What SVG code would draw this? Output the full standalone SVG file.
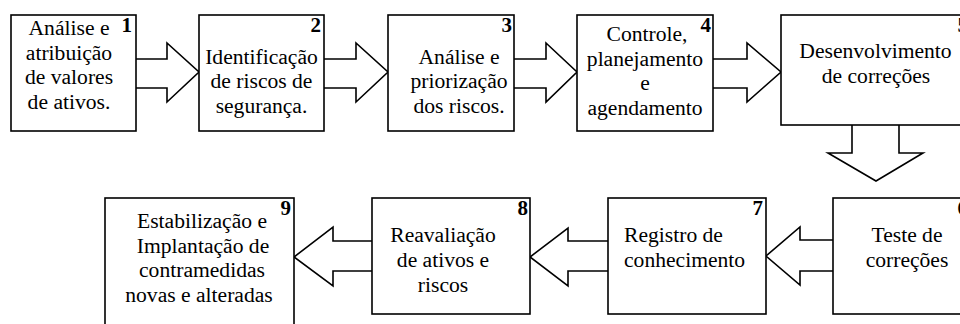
<svg xmlns="http://www.w3.org/2000/svg" width="960" height="324" viewBox="0 0 960 324">
<style>
.box{fill:#fff;stroke:#000;stroke-width:1.6}
.arr{fill:#fff;stroke:#000;stroke-width:1.6;stroke-linejoin:miter}
text{font-family:'Liberation Serif','Times New Roman','DejaVu Serif',serif;fill:#000}
.t{font-size:21.6px;text-anchor:middle}
.n{font-size:21px;font-weight:bold;text-anchor:end}
</style>
<rect width="960" height="324" fill="#fff"/>
<g id="connectors">
<polyline class="arr" points="136,59 167,59 167,43 199,72 167,102 167,88 136,88"/>
<polyline class="arr" points="324,59 356,59 356,43 388,72 356,102 356,88 324,88"/>
<polyline class="arr" points="514,59 546,59 546,43 577,72 546,102 546,88 514,88"/>
<polyline class="arr" points="713,59 747,59 747,43 781,72 747,102 747,88 713,88"/>
<polyline class="arr" points="852,125 852,153 828,153 876,181 923,153 899,153 899,125"/>
<polyline class="arr" points="833,240 800,240 800,227 766,256 800,285 800,271 833,271"/>
<polyline class="arr" points="608,241 568,241 568,228 530,257 568,286 568,271 608,271"/>
<polyline class="arr" points="372,241 333,241 333,227 294,257 333,286 333,271 372,271"/>
</g>
<g id="node1">
<rect class="box" x="11" y="15" width="125" height="116"/>
<text class="n" x="132" y="32" font-family="Liberation Serif">1</text>
<text class="t" x="69" y="35" font-family="Liberation Serif">Análise e</text>
<text class="t" x="69" y="60" font-family="Liberation Serif">atribuição</text>
<text class="t" x="69" y="84" font-family="Liberation Serif">de valores</text>
<text class="t" x="69" y="109" font-family="Liberation Serif">de ativos.</text>
</g>
<g id="node2">
<rect class="box" x="199" y="15" width="125" height="116"/>
<text class="n" x="321" y="32">2</text>
<text class="t" x="261.5" y="64">Identificação</text>
<text class="t" x="261.5" y="88">de riscos de</text>
<text class="t" x="261.5" y="113">segurança.</text>
</g>
<g id="node3">
<rect class="box" x="388" y="15" width="126" height="116"/>
<text class="n" x="512" y="32">3</text>
<text class="t" x="459" y="64">Análise e</text>
<text class="t" x="459" y="88">priorização</text>
<text class="t" x="459" y="113">dos riscos.</text>
</g>
<g id="node4">
<rect class="box" x="577" y="15" width="136" height="116"/>
<text class="n" x="711" y="32">4</text>
<text class="t" x="647" y="41">Controle,</text>
<text class="t" x="645" y="66">planejamento</text>
<text class="t" x="645" y="90">e</text>
<text class="t" x="645" y="115">agendamento</text>
</g>
<g id="node5">
<rect class="box" x="781" y="15" width="195" height="110"/>
<text class="n" x="968" y="32">5</text>
<text class="t" x="875.5" y="58">Desenvolvimento</text>
<text class="t" x="876" y="83">de correções</text>
</g>
<g id="node6">
<rect class="box" x="833" y="198" width="143" height="116"/>
<text class="n" x="968" y="215">6</text>
<text class="t" x="907" y="242">Teste de</text>
<text class="t" x="907" y="267">correções</text>
</g>
<g id="node7">
<rect class="box" x="608" y="198" width="158" height="116"/>
<text class="n" x="763" y="215">7</text>
<text class="t" x="624" y="242" style="text-anchor:start">Registro de</text>
<text class="t" x="624" y="267" style="text-anchor:start">conhecimento</text>
</g>
<g id="node8">
<rect class="box" x="372" y="198" width="158" height="116"/>
<text class="n" x="528" y="215">8</text>
<text class="t" x="443" y="242">Reavaliação</text>
<text class="t" x="443" y="267">de ativos e</text>
<text class="t" x="443" y="292">riscos</text>
</g>
<g id="node9">
<rect class="box" x="105" y="198" width="189" height="140"/>
<text class="n" x="291" y="215">9</text>
<text class="t" x="202" y="228">Estabilização e</text>
<text class="t" x="203" y="253">Implantação de</text>
<text class="t" x="202" y="277">contramedidas</text>
<text class="t" x="199" y="302">novas e alteradas</text>
</g>
</svg>
